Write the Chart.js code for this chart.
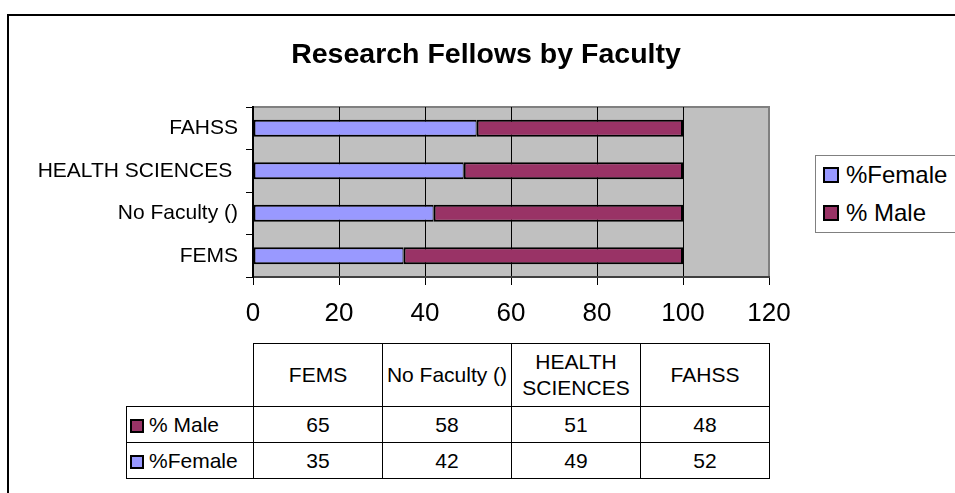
<!DOCTYPE html>
<html lang="en">
<head>
    <meta charset="UTF-8">
    <title>Research Fellows by Faculty</title>
    <script src="https://cdn.jsdelivr.net/npm/chart.js@4.4.1/dist/chart.umd.min.js"></script>
    <style>
        html, body { margin: 0; padding: 0; background: #fff; }
        body { width: 955px; height: 493px; overflow: hidden; position: relative; font-family: 'Liberation Sans', Arial, sans-serif; }
        .frame { position: absolute; left: 7px; top: 14px; width: 1000px; height: 520px; border: 2px solid #000; }
        #chart { position: absolute; left: 0; top: 0; }
        .legend { position: absolute; left: 815px; top: 155px; width: 200px; border: 1px solid #808080; background: #fff; }
        .legend .item { height: 38px; display: flex; align-items: center; font-size: 24px; color: #000; }
        .legend .swatch { width: 16px; height: 16px; box-sizing: border-box; border: 2px solid #000; margin-left: 7px; margin-right: 7px; }
        table.data { position: absolute; left: 126px; top: 343px; border-collapse: collapse; table-layout: fixed; font-size: 21px; color: #000; }
        table.data td { border: 1px solid #000; padding: 0; text-align: center; line-height: 26px; }
        table.data td.blank { border-top: none; border-left: none; }
        table.data tr.head td { height: 62px; }
        table.data tr.row td { height: 35px; }
        table.data td.label { text-align: left; padding-left: 3px; white-space: nowrap; }
        table.data .swatch { display: inline-block; width: 14px; height: 14px; box-sizing: border-box; border: 2px solid #000; margin-right: 5px; vertical-align: -1px; }
    </style>
</head>
<body>
    <div class="frame"></div>
    <canvas id="chart" width="955" height="340"></canvas>
    <div class="legend" id="legend"></div>
    <table class="data" id="dataTable"></table>

    <script>
        // Data
        const categories = ['FEMS', 'No Faculty ()', 'HEALTH SCIENCES ', 'FAHSS'];
        const femalePct = [35, 42, 49, 52];
        const malePct = [65, 58, 51, 48];
        const seriesNames = ['%Female', '% Male'];
        const seriesColors = ['#9999FF', '#993366'];
        const xMin = 0, xMax = 120, xStep = 20;

        const font = "'Liberation Sans', Arial, sans-serif";

        // grey plot area with a grey frame, like the old Excel charts
        const plotBackground = {
            id: 'plotBackground',
            afterLayout(chart) {
                // centre the title over the whole chart object, not just the plot side
                const t = chart.titleBlock;
                if (t) {
                    t.left = 203;
                    t.width = t.right - t.left;
                }
            },
            beforeDraw(chart) {
                const a = chart.chartArea;
                const ctx = chart.ctx;
                ctx.save();
                ctx.fillStyle = '#C0C0C0';
                ctx.fillRect(a.left, a.top, a.right - a.left, a.bottom - a.top);
                ctx.strokeStyle = '#808080';
                ctx.lineWidth = 2;
                ctx.strokeRect(a.left, a.top, a.right - a.left, a.bottom - a.top);
                ctx.restore();
            }
        };

        const ctx = document.getElementById('chart').getContext('2d');
        const chart = new Chart(ctx, {
            type: 'bar',
            data: {
                labels: categories,
                datasets: [{
                    label: seriesNames[0],
                    data: femalePct,
                    backgroundColor: seriesColors[0],
                    borderColor: '#000',
                    borderWidth: { left: 2, right: 1, top: 2, bottom: 2 },
                    borderSkipped: false
                }, {
                    label: seriesNames[1],
                    data: malePct,
                    backgroundColor: seriesColors[1],
                    borderColor: '#000',
                    borderWidth: { left: 2, right: 2, top: 2, bottom: 2 },
                    borderSkipped: false
                }]
            },
            options: {
                indexAxis: 'y',
                responsive: false,
                animation: false,
                devicePixelRatio: 1,
                barPercentage: 0.4,
                categoryPercentage: 1,
                layout: {
                    padding: { left: 0, right: 186, top: 0, bottom: 0 }
                },
                plugins: {
                    legend: { display: false },
                    tooltip: { enabled: false },
                    title: {
                        display: true,
                        text: 'Research Fellows by Faculty',
                        color: '#000',
                        font: { family: font, size: 28.5, weight: 'bold' },
                        padding: { top: 38, bottom: 34.8 }
                    }
                },
                scales: {
                    x: {
                        stacked: true,
                        min: xMin,
                        max: xMax,
                        ticks: {
                            stepSize: xStep,
                            color: '#000',
                            padding: 13,
                            font: { family: font, size: 26 }
                        },
                        grid: {
                            color: c => (c.tick && c.tick.value === xMax) ? '#808080' : '#000',
                            tickColor: '#000',
                            tickLength: 8,
                            lineWidth: 1
                        },
                        border: { color: '#404040', width: 2 },
                        afterFit(scale) {
                            scale.height = 63;
                            scale.paddingLeft = 0;
                            scale.paddingRight = 0;
                        }
                    },
                    y: {
                        stacked: true,
                        reverse: true,
                        ticks: {
                            color: '#000',
                            padding: 8,
                            font: { family: font, size: 21 }
                        },
                        grid: {
                            offset: true,
                            drawOnChartArea: false,
                            tickColor: '#000',
                            tickLength: 7
                        },
                        border: { color: '#000', width: 2 },
                        afterFit(scale) {
                            scale.width = 253;
                            scale.paddingTop = 0;
                            scale.paddingBottom = 0;
                        }
                    }
                }
            },
            plugins: [plotBackground]
        });

        // Legend box on the right
        const legend = document.getElementById('legend');
        chart.data.datasets.forEach(ds => {
            const item = document.createElement('div');
            item.className = 'item';
            item.innerHTML = '<span class="swatch" style="background:' + ds.backgroundColor + '"></span>' + ds.label;
            legend.appendChild(item);
        });

        // Data table under the chart (% Male first, then %Female)
        const table = document.getElementById('dataTable');
        let html = '<colgroup><col style="width:127px">';
        categories.forEach(() => { html += '<col style="width:129px">'; });
        html += '</colgroup><tr class="head"><td class="blank"></td>';
        categories.forEach(c => { html += '<td>' + c + '</td>'; });
        html += '</tr>';
        [[1, malePct], [0, femalePct]].forEach(([i, values]) => {
            html += '<tr class="row"><td class="label"><span class="swatch" style="background:' + seriesColors[i] + '"></span>' + seriesNames[i] + '</td>';
            values.forEach(v => { html += '<td>' + v + '</td>'; });
            html += '</tr>';
        });
        table.innerHTML = html;
    </script>
</body>
</html>
